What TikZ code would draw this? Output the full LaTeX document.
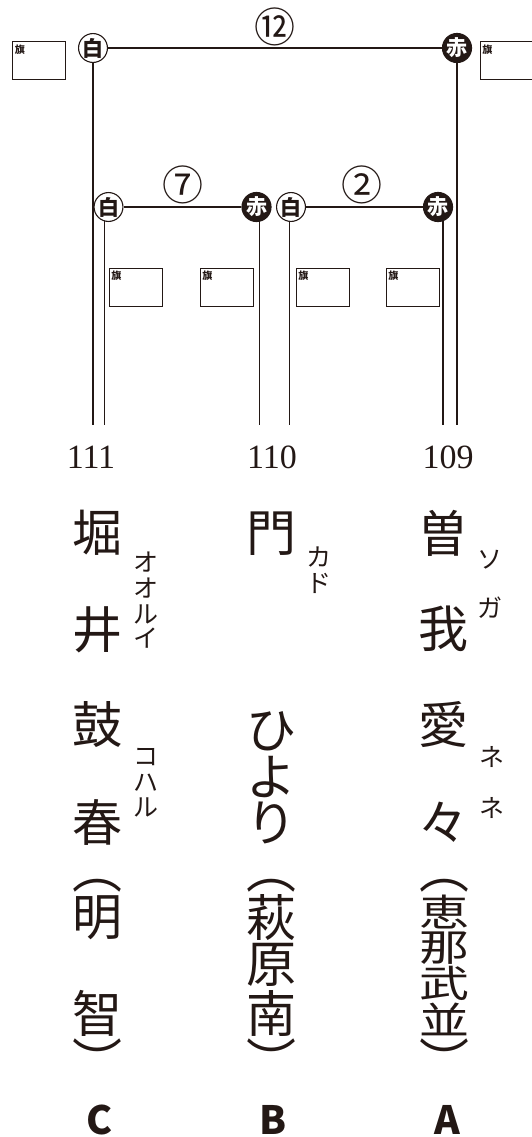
\documentclass[tikz,border=0pt]{standalone}
\usepackage{fontspec}
\setmainfont{Liberation Serif}
\newfontfamily\jp{Noto Sans CJK JP}
\definecolor{ink}{RGB}{35,24,21}
\pgfdeclarelayer{bg}
\pgfsetlayers{bg,main}
\tikzset{
 wire/.style={draw=ink, line width=1.1pt},
 shiro/.style={circle, draw=ink, fill=white, line width=1.1pt, minimum size=27pt, inner sep=0pt, text=ink, font=\jp\bfseries\fontsize{21}{21}\selectfont},
 aka/.style={circle, draw=ink, fill=ink, line width=1.1pt, minimum size=27pt, inner sep=0pt, text=white, font=\jp\bfseries\fontsize{21}{21}\selectfont},
 circnum/.style={text=ink, inner sep=0pt, font=\jp\fontsize{41}{41}\selectfont},
 flagbox/.style={draw=ink, line width=0.9pt, minimum width=53pt, minimum height=38pt, inner sep=0pt},
 flagtxt/.style={anchor=north west, inner sep=0pt, text=ink, font=\jp\bfseries\fontsize{10}{10}\selectfont},
 num/.style={text=ink, inner sep=0pt, font=\fontsize{34}{34}\selectfont},
 kan/.style={text=ink, inner sep=0pt, font=\jp\fontsize{50}{50}\selectfont},
 paren/.style={kan, rotate=-90},
 ruby/.style={text=ink, inner sep=0pt, font=\jp\fontsize{25}{25}\selectfont},
 team/.style={text=ink, inner sep=0pt, font=\jp\bfseries\fontsize{39}{39}\selectfont},
}
\begin{document}
\begin{tikzpicture}[x=1pt,y=-1pt]
\useasboundingbox (0,0) rectangle (532,1137);
\clip (0,0) rectangle (532,1137);
% circles
\node[shiro] (w1) at (93,48) {白};
\node[aka]   (r1) at (457,48) {赤};
\node[shiro] (w2) at (108.5,207) {白};
\node[aka]   (r2) at (256.5,207) {赤};
\node[shiro] (w3) at (291,207) {白};
\node[aka]   (r3) at (438,207) {赤};
% match numbers
\node[circnum] (n12) at (275,27) {⑫};
\node[circnum] (n7) at (183,185) {⑦};
\node[circnum] (n2) at (362,185) {②};
% bottom ends
\coordinate (b1) at (93,425);
\coordinate (b2) at (104.5,425);
\coordinate (b3) at (259.5,425);
\coordinate (b4) at (289.5,425);
\coordinate (b5) at (443,425);
\coordinate (b6) at (457,425);
\begin{pgfonlayer}{bg}
\draw[wire] (w1) -- (r1);
\draw[wire] (w2) -- (r2);
\draw[wire] (w3) -- (r3);
\draw[wire] (w1.center -| b1) -- (b1);
\draw[wire] (w2.center -| b2) -- (b2);
\draw[wire] (r2.center -| b3) -- (b3);
\draw[wire] (w3.center -| b4) -- (b4);
\draw[wire] (r3.center -| b5) -- (b5);
\draw[wire] (r1.center -| b6) -- (b6);
\end{pgfonlayer}
% flags
\node[flagbox] (f1) at (39,60.5) {};
\node[flagbox] (f2) at (506.5,60.5) {};
\node[flagbox] (f3) at (135.5,287) {};
\node[flagbox] (f4) at (226.5,287) {};
\node[flagbox] (f5) at (322.5,287) {};
\node[flagbox] (f6) at (412.5,287) {};
\node[flagtxt] (t1) at ([shift={(2.5,3.5)}]f1.north west) {旗};
\node[flagtxt] (t2) at ([shift={(2.5,3.5)}]f2.north west) {旗};
\node[flagtxt] (t3) at ([shift={(2.5,3.5)}]f3.north west) {旗};
\node[flagtxt] (t4) at ([shift={(2.5,3.5)}]f4.north west) {旗};
\node[flagtxt] (t5) at ([shift={(2.5,3.5)}]f5.north west) {旗};
\node[flagtxt] (t6) at ([shift={(2.5,3.5)}]f6.north west) {旗};
% lane numbers
\node[num] (l111) at (91,457) {111};
\node[num] (l110) at (272,457) {110};
\node[num] (l109) at (448,457) {109};
% column C
\node[kan] (c1) at (97.5,533) {堀};
\node[kan] (c2) at (97.5,630) {井};
\node[kan] (c3) at (97.5,725) {鼓};
\node[kan] (c4) at (97.5,822) {春};
\node[paren] (c5) at (97.5,869) {（};
\node[kan] (c6) at (97.5,918) {明};
\node[kan] (c7) at (97.5,1013) {智};
\node[paren] (c8) at (97.5,1061) {）};
\node[ruby] (cr1) at (146,562) {オ};
\node[ruby] (cr2) at (146,588) {オ};
\node[ruby] (cr3) at (146,614) {ル};
\node[ruby] (cr4) at (146,638) {イ};
\node[ruby] (cr5) at (146,757) {コ};
\node[ruby] (cr6) at (146,783) {ハ};
\node[ruby] (cr7) at (146,807) {ル};
% column B
\node[kan] (d1) at (271,534) {門};
\node[kan] (d2) at (271,731) {ひ};
\node[kan] (d3) at (271,777) {よ};
\node[kan] (d4) at (271,823) {り};
\node[paren] (d5) at (271,869) {（};
\node[kan] (d6) at (271,918) {萩};
\node[kan] (d7) at (271,965) {原};
\node[kan] (d8) at (271,1013) {南};
\node[paren] (d9) at (271,1061) {）};
\node[ruby] (dr1) at (319,557) {カ};
\node[ruby] (dr2) at (319,583) {ド};
% column A
\node[kan] (a1) at (443,533) {曽};
\node[kan] (a2) at (443,629) {我};
\node[kan] (a3) at (443,725) {愛};
\node[kan] (a4) at (443,822) {々};
\node[paren] (a5) at (444,869) {（};
\node[kan] (a6) at (444,912) {\scalebox{1}[0.75]{恵}};
\node[kan] (a7) at (444,948) {\scalebox{1}[0.75]{那}};
\node[kan] (a8) at (444,983) {\scalebox{1}[0.75]{武}};
\node[kan] (a9) at (444,1019) {\scalebox{1}[0.75]{並}};
\node[paren] (a10) at (444,1061) {）};
\node[ruby] (ar1) at (490,560) {ソ};
\node[ruby] (ar2) at (490,608) {ガ};
\node[ruby] (ar3) at (492,757) {ネ};
\node[ruby] (ar4) at (492,808) {ネ};
% team labels
\node[team] (tc) at (100,1120) {C};
\node[team] (tb) at (273,1120) {B};
\node[team] (ta) at (447,1120) {A};
\end{tikzpicture}
\end{document}
